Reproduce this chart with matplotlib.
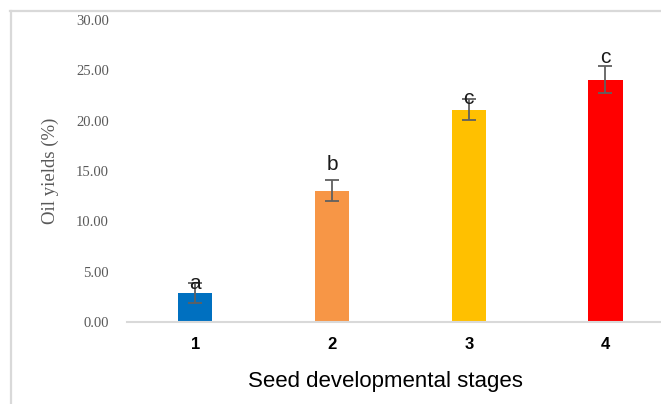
import matplotlib.pyplot as plt
from matplotlib.lines import Line2D

# values
stages = ['1', '2', '3', '4']
oil_yield = [2.9, 13.05, 21.1, 24.05]
yield_err = [1.0, 1.05, 1.05, 1.35]
letters = ['a', 'b', 'c', 'c']
letter_y = [3.87, 15.6, 22.25, 26.3]
bar_colors = ['#0070C0', '#F79646', '#FFC000', '#FF0000']
y_ticks = [0, 5, 10, 15, 20, 25, 30]

fig = plt.figure(figsize=(6.61, 4.04), dpi=100)
ax = fig.add_axes([127 / 661, 1 - 322 / 404, 1 - 127 / 661, (322 - 20) / 404])

x = range(len(stages))
ax.bar(x, oil_yield, width=0.25, color=bar_colors, zorder=2)
ax.errorbar(x, oil_yield, yerr=yield_err, fmt='none', ecolor='#606060',
            elinewidth=1.3, capsize=5, capthick=1.3, zorder=3)

for i, (lab, ly) in enumerate(zip(letters, letter_y)):
    ax.text(i, ly, lab, ha='center', va='center', fontsize=15,
            family='Liberation Sans', color='#1a1a1a', zorder=4)

ax.set_xlim(-0.5, 3.406)
ax.set_ylim(0, 30)
ax.set_xticks(list(x))
ax.set_xticklabels(stages, fontsize=12, fontweight='bold', family='Liberation Sans')
ax.set_yticks(y_ticks)
ax.set_yticklabels([f'{v:.2f}' for v in y_ticks], fontsize=10.5,
                   family='Liberation Serif', color='#595959')
ax.tick_params(axis='x', length=0, pad=11)
ax.tick_params(axis='y', length=0, pad=13)

for s in ['top', 'left', 'right']:
    ax.spines[s].set_visible(False)
ax.spines['bottom'].set_color('#d9d9d9')
ax.spines['bottom'].set_linewidth(1.5)

ax.set_xlabel('Seed developmental stages', fontsize=16, family='Liberation Sans')
ax.xaxis.set_label_coords((385 - 127) / 534, -49 / 302)
ax.set_ylabel('Oil yields (%)', fontsize=13.5, family='Liberation Serif',
              color='#595959')
ax.yaxis.set_label_coords((59 - 127) / 534, 0.5)

# outer chart border (cropped on right and bottom)
fig.add_artist(Line2D([10.5 / 661, 10.5 / 661], [0, 1 - 11 / 404],
                      transform=fig.transFigure, color='#d9d9d9', lw=1.6))
fig.add_artist(Line2D([10 / 661, 1], [1 - 11 / 404, 1 - 11 / 404],
                      transform=fig.transFigure, color='#d9d9d9', lw=1.6))

fig.savefig('out.png', dpi=100)
